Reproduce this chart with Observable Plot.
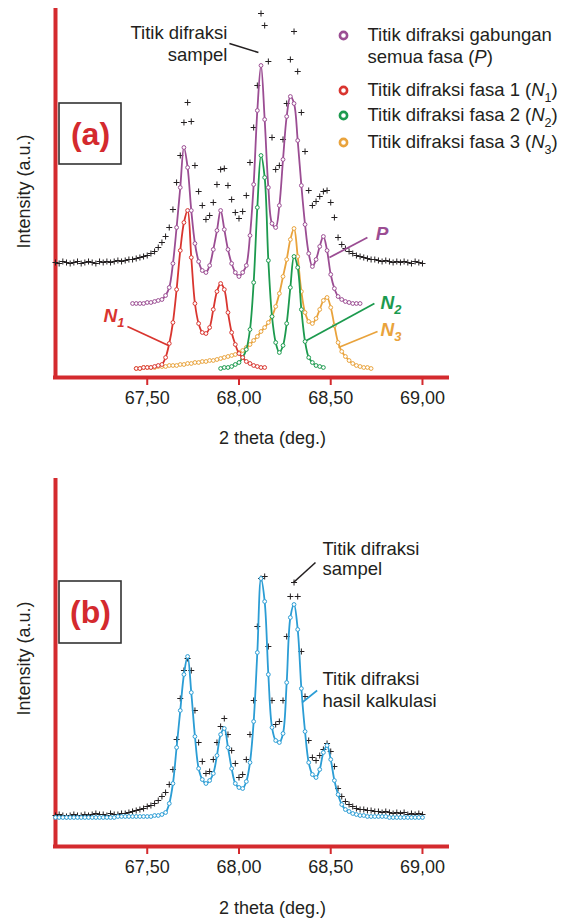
<!DOCTYPE html>
<html><head><meta charset="utf-8">
<script src="https://cdn.jsdelivr.net/npm/d3@7"></script>
<script src="https://cdn.jsdelivr.net/npm/@observablehq/plot@0.6"></script>
<style>
html,body{margin:0;padding:0;background:#fff;}
#chart{width:572px;}
#chart svg{display:block;}
</style></head><body><div id="chart"></div>
<script>
// ---------- data ----------
const thetaGrid = [
67.00,67.02,67.04,67.06,67.08,67.10,67.12,67.14,67.16,67.18,
67.20,67.22,67.24,67.26,67.28,67.30,67.32,67.34,67.36,67.38,
67.40,67.42,67.44,67.46,67.48,67.50,67.52,67.54,67.56,67.58,
67.60,67.62,67.64,67.66,67.68,67.70,67.72,67.74,67.76,67.78,
67.80,67.82,67.84,67.86,67.88,67.90,67.92,67.94,67.96,67.98,
68.00,68.02,68.04,68.06,68.08,68.10,68.12,68.14,68.16,68.18,
68.20,68.22,68.24,68.26,68.28,68.30,68.32,68.34,68.36,68.38,
68.40,68.42,68.44,68.46,68.48,68.50,68.52,68.54,68.56,68.58,
68.60,68.62,68.64,68.66,68.68,68.70,68.72,68.74,68.76,68.78,
68.80,68.82,68.84,68.86,68.88,68.90,68.92,68.94,68.96,68.98,
69.00];
const xTicks = [67.5, 68.0, 68.5, 69.0];

// panel (a)
const sampleAStart = 67.00;
const sampleAValues = [
115,114,116,115,114,115,116,114,115,116,
115,114,116,115,116,115,116,117,116,117,
118,118,119,120,121,122,124,126,130,135,
141,150,168,195,222,255,275,256,212,186,
172,158,162,175,193,208,209,192,178,165,
159,166,182,215,250,292,364,352,316,240,
208,212,238,274,318,346,306,265,226,187,
172,176,181,186,187,175,160,140,133,129,
126,124,122,121,120,119,118,118,117,116,
117,116,115,116,115,116,115,114,116,115,
114];
const pStart = 67.42;
const pValues = [
74,74,74,74,75,75,76,77,78,82,
90,114,150,190,230,210,167,134,116,107,
105,112,128,147,167,148,128,114,105,101,
105,112,142,193,267,312,258,190,154,150,
172,218,261,281,274,237,192,153,124,111,
118,131,141,127,103,89,81,78,76,75,
74,74,74];
const n1Start = 67.44;
const n1Values = [
9,9,10,10,10,11,12,13,20,34,
55,88,127,155,167,120,74,54,45,44,
50,68,86,94,88,65,45,33,24,20,
16,14,12,11,10,10];
const n2Start = 67.90;
const n2Values = [
9,10,10,11,13,15,20,28,48,95,
170,222,200,117,61,35,25,32,54,90,
121,110,68,36,20,15,12,11,10];
const n3Start = 67.44;
const n3Values = [
9,9,10,10,10,10,11,11,11,12,
12,12,13,13,14,14,15,15,16,16,
17,17,18,19,20,21,22,23,25,27,
30,33,37,41,46,50,55,61,71,84,
101,118,138,149,121,86,65,56,54,59,
68,77,80,70,52,35,26,21,17,14,
12,11,10,10,9];

// panel (b)
const sampleBStart = 67.00;
const sampleBValues = [
31,32,31,30,31,32,31,31,32,31,
32,33,32,32,31,33,32,32,33,33,
34,35,36,37,38,40,41,43,46,50,
54,62,77,107,148,176,188,176,136,104,
85,73,75,87,104,120,128,112,96,83,
69,72,87,112,146,220,268,270,200,146,
122,125,146,210,250,264,250,195,150,106,
89,86,91,97,103,95,80,58,50,45,
42,40,38,37,37,36,36,35,35,34,
35,34,33,34,33,34,32,33,32,33,
32];
const calcBStart = 67.00;
const calcBValues = [
29,29,29,29,29,29,29,29,29,29,
29,29,29,29,29,29,29,30,30,30,
30,30,30,30,30,30,30,31,31,32,
34,43,63,99,136,172,190,154,110,78,
67,63,66,73,91,112,118,99,78,63,
59,58,65,84,125,194,268,245,172,119,
106,104,113,164,229,242,217,158,115,84,
72,69,77,94,101,87,66,52,42,37,
35,33,32,31,31,30,30,30,30,30,
30,29,29,29,29,29,29,29,29,29,
29];

// ---------- styles ----------
const FONT = "'Liberation Sans', Arial, Helvetica, sans-serif";
const INK = "#231f20", AXIS_RED = "#d42a2e";
const PURPLE = "#9b4d93", RED_N = "#d9352f", GREEN = "#1c9a4e", ORANGE = "#e9a33c", BLUE = "#2b9dd5";

function series(start, values) {
  const i0 = thetaGrid.indexOf(start);
  return values.map((v, i) => ({theta: thetaGrid[i0 + i], intensity: v}));
}
const fmt = d => d.toFixed(2).replace(".", ",");

function curve(data, color) {
  return [
    Plot.line(data, {x: "theta", y: "intensity", stroke: color, strokeWidth: 1.8, curve: "catmull-rom"}),
    Plot.dot(data, {x: "theta", y: "intensity", r: 1.9, fill: "white", stroke: color, strokeWidth: 1})
  ];
}
function crosses(data) {
  return Plot.dot(data, {x: "theta", y: "intensity", symbol: "plus", r: 2.1, stroke: INK, strokeWidth: 1});
}
function frameMarks(L) {
  return [
    Plot.ruleX([67.0], {stroke: AXIS_RED, strokeWidth: 4, strokeLinecap: "square"}),
    Plot.ruleY([0], {stroke: AXIS_RED, strokeWidth: 4, strokeLinecap: "square"}),
    Plot.axisX({ticks: xTicks, tickFormat: fmt, tickSize: 8, tickPadding: 6, stroke: AXIS_RED, strokeWidth: 2, fill: INK, fontSize: 18, label: null}),
    Plot.text([L.xTitle], {x: "theta", y: "I", text: "text", fill: INK, fontSize: 18, lineAnchor: "middle"}),
    Plot.text([L.yTitle], {x: "theta", y: "I", text: "text", fill: INK, fontSize: 18, rotate: -90, lineAnchor: "middle"}),
    Plot.rect([L.box], {x1: "x1", x2: "x2", y1: "y1", y2: "y2", fill: "white", stroke: "#333", strokeWidth: 1.6}),
    Plot.text([L.boxLabel], {x: "theta", y: "I", text: "text", fill: AXIS_RED, fontSize: 32, fontWeight: "bold", lineAnchor: "middle"})
  ];
}

// ---------- layout of annotations (data units) ----------
const layoutA = {
  xTitle: {theta: 68.1826, I: -61, text: "2 theta (deg.)"},
  yTitle: {theta: 66.831, I: 186, text: "Intensity (a.u.)"},
  box: {x1: 67.0218, x2: 67.3597, y1: 213, y2: 274},
  boxLabel: {theta: 67.1907, I: 243, text: "(a)"},
  sampleText: [{theta: 67.937, I: 344, text: "Titik difraksi"}, {theta: 67.937, I: 322, text: "sampel"}],
  sampleLeader: [{x1: 67.948, y1: 334, x2: 68.106, y2: 325}],
  legendDots: [{theta: 68.5696, I: 342, c: PURPLE}, {theta: 68.5696, I: 287, c: RED_N}, {theta: 68.5696, I: 262, c: GREEN}, {theta: 68.5696, I: 235, c: ORANGE}],
  legendText: [
    {theta: 68.70, I: 342, text: "Titik difraksi gabungan"},
    {theta: 68.70, I: 320, text: "semua fasa (<i>P</i>)"},
    {theta: 68.70, I: 287, text: "Titik difraksi fasa 1 (<i>N</i><sub>1</sub>)"},
    {theta: 68.70, I: 262, text: "Titik difraksi fasa 2 (<i>N</i><sub>2</sub>)"},
    {theta: 68.70, I: 235, text: "Titik difraksi fasa 3 (<i>N</i><sub>3</sub>)"}
  ],
  tags: [
    {theta: 67.2616, I: 62, text: "N<sub>1</sub>", c: RED_N},
    {theta: 68.745, I: 144, text: "P", c: PURPLE},
    {theta: 68.771, I: 75, text: "N<sub>2</sub>", c: GREEN},
    {theta: 68.771, I: 48, text: "N<sub>3</sub>", c: ORANGE}
  ],
  tagLeaders: [
    {x1: 67.392, y1: 51, x2: 67.616, y2: 32, c: RED_N},
    {x1: 68.700, y1: 140, x2: 68.493, y2: 120, c: PURPLE},
    {x1: 68.738, y1: 74, x2: 68.368, y2: 37, c: GREEN},
    {x1: 68.755, y1: 46, x2: 68.542, y2: 30, c: ORANGE}
  ]
};
const layoutB = {
  xTitle: {theta: 68.1826, I: -62, text: "2 theta (deg.)"},
  yTitle: {theta: 66.831, I: 188, text: "Intensity (a.u.)"},
  box: {x1: 67.0218, x2: 67.3597, y1: 203, y2: 265},
  boxLabel: {theta: 67.1907, I: 234, text: "(b)"},
  texts: [
    {theta: 68.455, I: 297, text: "Titik difraksi"}, {theta: 68.455, I: 277, text: "sampel"},
    {theta: 68.455, I: 167, text: "Titik difraksi"}, {theta: 68.455, I: 145, text: "hasil kalkulasi"}
  ],
  leaders: [
    {x1: 68.417, y1: 284, x2: 68.297, y2: 264, c: INK},
    {x1: 68.426, y1: 156, x2: 68.344, y2: 144, c: BLUE}
  ]
};

// ---------- panel (a) ----------
const plotA = Plot.plot({
  width: 572, height: 460,
  marginLeft: 55, marginRight: 125, marginTop: 10, marginBottom: 83,
  x: {domain: [67.0, 69.1364], axis: null},
  y: {domain: [0, 367], axis: null},
  color: {type: "identity"},
  style: {fontFamily: FONT, fontSize: "18px", color: INK, background: "white", overflow: "visible"},
  marks: [
    ...frameMarks(layoutA),
    crosses(series(sampleAStart, sampleAValues)),
    ...curve(series(n3Start, n3Values), ORANGE),
    ...curve(series(n2Start, n2Values), GREEN),
    ...curve(series(n1Start, n1Values), RED_N),
    ...curve(series(pStart, pValues), PURPLE),
    Plot.text(layoutA.sampleText, {x: "theta", y: "I", text: "text", textAnchor: "end", fill: INK, fontSize: 18.5, lineAnchor: "middle"}),
    Plot.link(layoutA.sampleLeader, {x1: "x1", y1: "y1", x2: "x2", y2: "y2", stroke: INK, strokeWidth: 1.5}),
    Plot.link(layoutA.tagLeaders, {x1: "x1", y1: "y1", x2: "x2", y2: "y2", stroke: "c", strokeWidth: 1.8}),
    Plot.text(layoutA.tags, {x: "theta", y: "I", text: "text", fill: "c", textAnchor: "start", fontSize: 19, fontWeight: "bold", fontStyle: "italic", lineAnchor: "middle"}),
    Plot.dot(layoutA.legendDots, {x: "theta", y: "I", r: 3.6, stroke: "c", strokeWidth: 2.6, fill: "white"}),
    Plot.text(layoutA.legendText, {x: "theta", y: "I", text: "text", textAnchor: "start", fill: INK, fontSize: 18.5, lineAnchor: "middle"})
  ]
});

// ---------- panel (b) ----------
const plotB = Plot.plot({
  width: 572, height: 460,
  marginLeft: 55, marginRight: 125, marginTop: 20, marginBottom: 74,
  x: {domain: [67.0, 69.1364], axis: null},
  y: {domain: [0, 366], axis: null},
  color: {type: "identity"},
  style: {fontFamily: FONT, fontSize: "18px", color: INK, background: "white", overflow: "visible"},
  marks: [
    ...frameMarks(layoutB),
    crosses(series(sampleBStart, sampleBValues)),
    ...curve(series(calcBStart, calcBValues), BLUE),
    Plot.link(layoutB.leaders, {x1: "x1", y1: "y1", x2: "x2", y2: "y2", stroke: "c", strokeWidth: 1.6}),
    Plot.text(layoutB.texts, {x: "theta", y: "I", text: "text", textAnchor: "start", fill: INK, fontSize: 18.5, lineAnchor: "middle"})
  ]
});

const host = document.getElementById("chart");
host.appendChild(plotA);
host.appendChild(plotB);

// rich text: <i>..</i> and <sub>..</sub>
function richify(svg) {
  svg.querySelectorAll("text").forEach(el => {
    const s = el.textContent;
    if (!s.includes("<")) return;
    const fs = parseFloat(getComputedStyle(el).fontSize) || 18;
    const parts = s.split(/(<i>.*?<\/i>|<sub>.*?<\/sub>)/).filter(p => p !== "");
    while (el.firstChild) el.removeChild(el.firstChild);
    let shifted = 0;
    parts.forEach(p => {
      const t = document.createElementNS("http://www.w3.org/2000/svg", "tspan");
      if (p.startsWith("<i>")) {
        t.textContent = p.slice(3, -4);
        t.setAttribute("font-style", "italic");
        if (shifted) { t.setAttribute("dy", -shifted); shifted = 0; }
      } else if (p.startsWith("<sub>")) {
        t.textContent = p.slice(5, -6);
        t.style.fontSize = (fs * 0.68) + "px";
        shifted = fs * 0.28;
        t.setAttribute("dy", shifted);
      } else {
        t.textContent = p;
        if (shifted) { t.setAttribute("dy", -shifted); shifted = 0; }
      }
      el.appendChild(t);
    });
  });
}
richify(plotA);
richify(plotB);
</script></body></html>
